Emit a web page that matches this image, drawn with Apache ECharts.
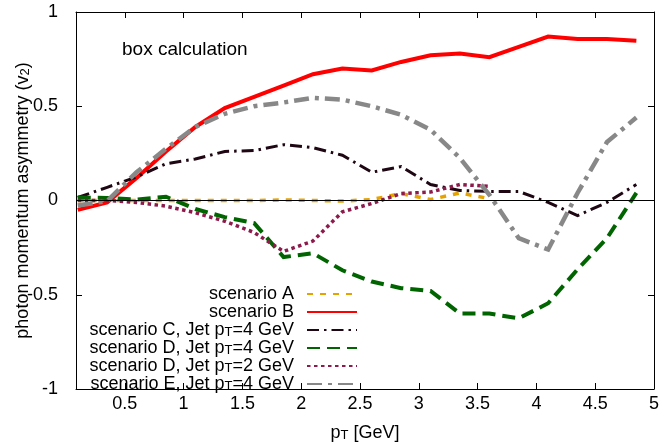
<!DOCTYPE html>
<html>
<head>
<meta charset="utf-8">
<script src="https://cdn.jsdelivr.net/npm/echarts@6/dist/echarts.min.js"></script>
<style>
  html, body { margin: 0; padding: 0; background: #fff; }
  #chart { width: 659px; height: 446px; }
</style>
</head>
<body>
<div id="chart"></div>
<script>
// transverse momentum grid (GeV)
const pT = [0.1, 0.35, 0.6, 0.85, 1.1, 1.35, 1.6, 1.85, 2.1, 2.35, 2.6, 2.85, 3.1, 3.35, 3.6, 3.85, 4.1, 4.35, 4.6, 4.85];
const xTicks = [0.5, 1, 1.5, 2, 2.5, 3, 3.5, 4, 4.5, 5];

// v2 for each scenario
const scenA  = [0, 0, 0, 0, 0, 0, 0, 0.003, 0, -0.003, 0.005, 0.037, 0.005, 0.04, 0.01];
const scenB  = [-0.05, -0.01, 0.12, 0.26, 0.39, 0.49, 0.55, 0.61, 0.67, 0.70, 0.69, 0.735, 0.77, 0.78, 0.76, 0.815, 0.87, 0.857, 0.857, 0.847];
const scenC4 = [0.016, 0.07, 0.125, 0.195, 0.22, 0.26, 0.265, 0.296, 0.28, 0.24, 0.15, 0.18, 0.085, 0.053, 0.048, 0.048, -0.01, -0.08, -0.01, 0.085];
const scenD4 = [0.016, 0.013, 0.005, 0.02, -0.045, -0.088, -0.12, -0.30, -0.28, -0.37, -0.43, -0.465, -0.48, -0.60, -0.60, -0.625, -0.545, -0.365, -0.20, 0.04];
const scenD2 = [0, 0, -0.01, -0.03, -0.065, -0.11, -0.17, -0.27, -0.215, -0.06, -0.016, 0.037, 0.045, 0.085, 0.075];
const scenE4 = [-0.026, -0.003, 0.15, 0.275, 0.39, 0.46, 0.50, 0.52, 0.545, 0.535, 0.50, 0.455, 0.375, 0.225, 0.03, -0.20, -0.26, 0.04, 0.31, 0.44];

const FONT = 'Liberation Sans, Arial, Helvetica, sans-serif';
const FS = 18;

function pairs(vals) {
  return vals.map((v, i) => [pT[i], v]);
}

function line(name, vals, color, width, dash) {
  return {
    name: name,
    type: 'line',
    data: pairs(vals),
    symbol: 'none',
    smooth: false,
    animation: false,
    lineStyle: { color: color, width: width, type: dash, cap: 'butt', join: 'miter' },
    itemStyle: { color: color },
    emphasis: { disabled: true }
  };
}

const series = [
  line('scenario A', scenA, '#e6a300', 3.5, [6, 7]),
  line('scenario B', scenB, '#ff0000', 4, 'solid'),
  line('scenario C, Jet pT=4 GeV', scenC4, '#1e0612', 3, [12, 5, 2.5, 5]),
  line('scenario D, Jet pT=4 GeV', scenD4, '#006400', 4, [13, 7]),
  line('scenario D, Jet pT=2 GeV', scenD2, '#8c1a4b', 3.5, [3.5, 3.5]),
  line('scenario E, Jet pT=4 GeV', scenE4, '#888888', 4.5, [15, 6, 4, 6])
];

// horizontal line at v2 = 0
series[0].markLine = {
  silent: true,
  symbol: 'none',
  animation: false,
  label: { show: false },
  lineStyle: { color: '#000', width: 1, type: 'solid' },
  data: [{ yAxis: 0 }]
};
series[0].z = 1;

const richText = {
  n: { fontSize: FS, fontFamily: FONT, color: '#000', lineHeight: 17 },
  s: { fontSize: 13, fontFamily: FONT, color: '#000', lineHeight: 8, verticalAlign: 'bottom' }
};

function toRich(str) {
  const parts = str.split('pT');
  return parts.map(p => p ? '{n|' + p + '}' : '').join('{n|p}{s|T}');
}

const chart = echarts.init(document.getElementById('chart'), null, { renderer: 'canvas' });

chart.setOption({
  backgroundColor: '#fff',
  animation: false,
  textStyle: { fontFamily: FONT, color: '#000' },
  title: {
    text: 'box calculation',
    left: 122,
    top: 40,
    padding: 0,
    textStyle: { fontSize: 19, fontWeight: 'normal', fontFamily: FONT, color: '#000' }
  },
  grid: { left: 76, right: 5, top: 12, bottom: 57, containLabel: false, outerBoundsMode: 'none' },
  legend: {
    orient: 'vertical',
    align: 'right',
    right: 301,
    top: 285,
    padding: 0,
    itemGap: 0,
    itemWidth: 50,
    itemHeight: 17,
    selectedMode: false,
    itemStyle: { opacity: 0 },
    formatter: name => toRich(name),
    textStyle: { padding: [0, 8, 0, 0], fontSize: FS, fontFamily: FONT, color: '#000', rich: richText },
    data: series.map(s => s.name)
  },
  xAxis: [
    {
      type: 'value',
      min: 0.085,
      max: 5,
      position: 'bottom',
      name: '{n|p}{s|T}{n| [GeV]}',
      nameLocation: 'middle',
      nameGap: 36,
      nameMoveOverlap: false,
      nameTextStyle: { rich: richText },
      axisLine: { show: true, onZero: false, lineStyle: { color: '#000', width: 1 } },
      axisTick: { show: true, inside: true, length: 6, customValues: xTicks, lineStyle: { color: '#000' } },
      axisLabel: { show: true, margin: 6, customValues: xTicks, fontSize: FS, fontFamily: FONT, color: '#000',
                   formatter: v => String(v) },
      splitLine: { show: false }
    },
    {
      type: 'value',
      min: 0.085,
      max: 5,
      position: 'top',
      axisLine: { show: true, onZero: false, lineStyle: { color: '#000', width: 1 } },
      axisTick: { show: true, inside: true, length: 6, customValues: xTicks, lineStyle: { color: '#000' } },
      axisLabel: { show: false },
      splitLine: { show: false }
    }
  ],
  yAxis: [
    {
      type: 'value',
      min: -1,
      max: 1,
      interval: 0.5,
      position: 'left',
      name: '{n|photon momentum asymmetry (v}{s|2}{n|)}',
      nameLocation: 'middle',
      nameRotate: 90,
      nameGap: 44,
      nameMoveOverlap: false,
      nameTextStyle: { rich: richText },
      axisLine: { show: true, onZero: false, lineStyle: { color: '#000', width: 1 } },
      axisTick: { show: true, inside: true, length: 6, lineStyle: { color: '#000' } },
      axisLabel: { show: true, margin: 18, fontSize: FS, fontFamily: FONT, color: '#000',
                   formatter: v => String(v) },
      splitLine: { show: false }
    },
    {
      type: 'value',
      min: -1,
      max: 1,
      interval: 0.5,
      position: 'right',
      axisLine: { show: true, onZero: false, lineStyle: { color: '#000', width: 1 } },
      axisTick: { show: true, inside: true, length: 6, lineStyle: { color: '#000' } },
      axisLabel: { show: false },
      splitLine: { show: false }
    }
  ],
  series: series
});
</script>
</body>
</html>
